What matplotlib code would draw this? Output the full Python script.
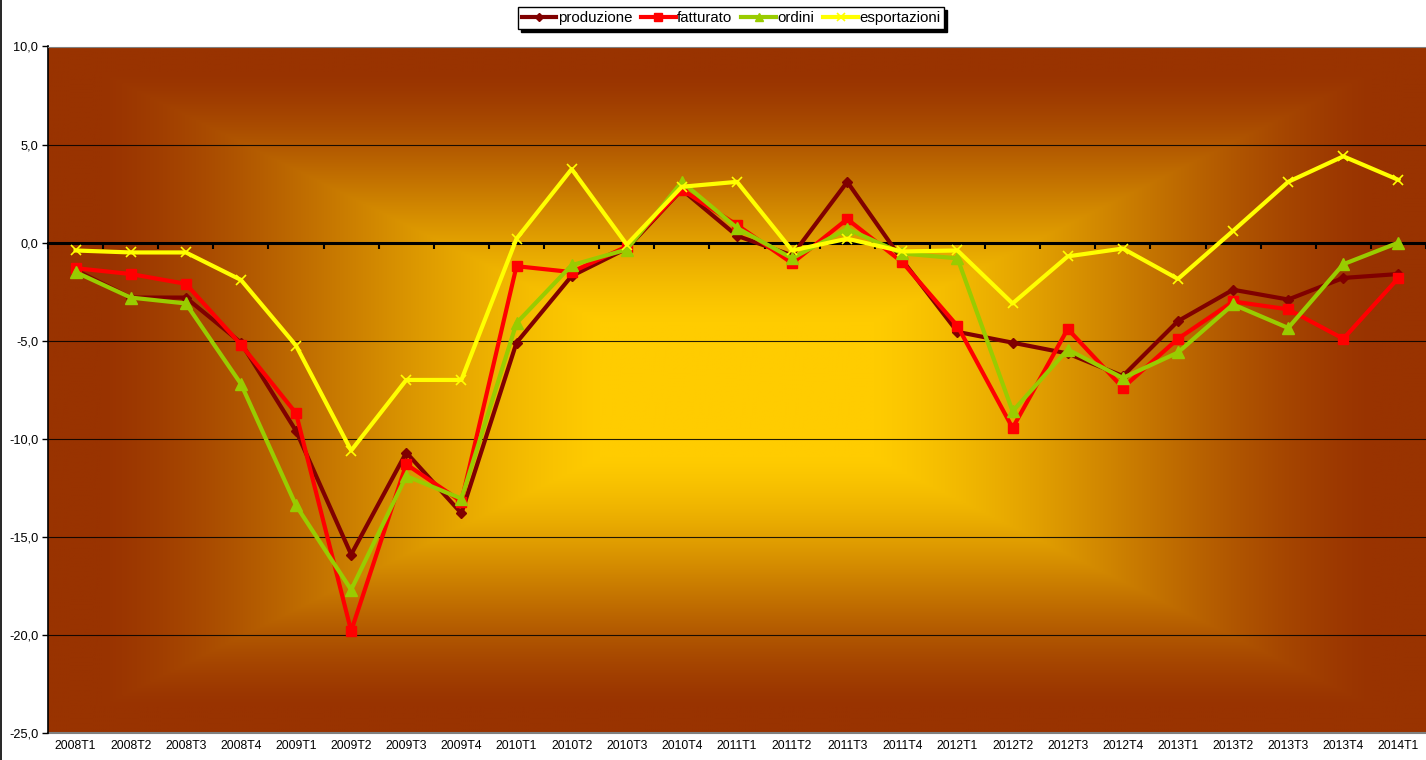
import numpy as np
import matplotlib
matplotlib.use("Agg")
import matplotlib.pyplot as plt
from matplotlib.ticker import FuncFormatter, FixedLocator
from matplotlib.lines import Line2D

plt.rcParams['font.family'] = ['Liberation Sans', 'DejaVu Sans']

# data
periodi = ['2008T1', '2008T2', '2008T3', '2008T4', '2009T1', '2009T2', '2009T3', '2009T4',
           '2010T1', '2010T2', '2010T3', '2010T4', '2011T1', '2011T2', '2011T3', '2011T4',
           '2012T1', '2012T2', '2012T3', '2012T4', '2013T1', '2013T2', '2013T3', '2013T4',
           '2014T1']
produzione = [-1.4, -2.8, -2.8, -5.1, -9.6, -15.9, -10.7, -13.8, -5.1, -1.7, -0.3, 2.7,
              0.35, -0.65, 3.1, -0.9, -4.55, -5.1, -5.65, -6.8, -4.0, -2.4, -2.9, -1.8, -1.6]
fatturato = [-1.3, -1.6, -2.1, -5.2, -8.7, -19.8, -11.3, -13.2, -1.2, -1.5, -0.2, 2.7,
             0.9, -1.05, 1.2, -1.0, -4.25, -9.45, -4.4, -7.4, -4.9, -3.0, -3.4, -4.9, -1.8]
ordini = [-1.5, -2.8, -3.1, -7.2, -13.4, -17.7, -11.9, -13.05, -4.1, -1.15, -0.35, 3.1,
          0.75, -0.8, 0.7, -0.55, -0.8, -8.6, -5.45, -6.9, -5.6, -3.15, -4.35, -1.1, 0.0]
esportazioni = [-0.4, -0.5, -0.5, -1.9, -5.25, -10.6, -7.0, -7.0, 0.2, 3.75, -0.1, 2.85,
                3.1, -0.4, 0.2, -0.45, -0.4, -3.1, -0.7, -0.3, -1.85, 0.6, 3.1, 4.4, 3.2]

fig = plt.figure(figsize=(14.26, 7.6), dpi=100)
ax = fig.add_axes([48 / 1426, 27 / 760, 1378 / 1426, 686.5 / 760])

x = np.arange(len(periodi))
ax.set_xlim(-0.5, len(periodi) - 0.5)
ax.set_ylim(-25, 10)

# rectangular "from centre" gradient background
nx, ny = 700, 350
gx = np.abs(np.linspace(-1, 1, nx))[None, :]
gy = np.abs(np.linspace(-1, 1, ny))[:, None]
d = np.maximum(gx, gy)
t = np.clip((d - 0.2) / 0.72, 0, 1)
t = 0.5 * t + 0.5 * t * t * (3 - 2 * t)
centro = np.array([255, 204, 0]) / 255.0
bordo = np.array([153, 51, 0]) / 255.0
img = centro[None, None, :] * (1 - t[..., None]) + bordo[None, None, :] * t[..., None]
ax.imshow(img, extent=(-0.5, len(periodi) - 0.5, -25, 10), aspect='auto', zorder=0,
          interpolation='bilinear')

# grid
for yv in [5, -5, -10, -15, -20]:
    ax.axhline(yv, color='black', lw=0.8, alpha=0.85, zorder=1)

ax.plot(x, produzione, color='#800000', lw=3, marker='D', ms=5.5, zorder=3, label='produzione')
ax.plot(x, fatturato, color='#FF0000', lw=3, marker='s', ms=7.5, zorder=4, label='fatturato')
ax.plot(x, ordini, color='#99CC00', lw=3, marker='^', ms=8, zorder=5, label='ordini')
ax.plot(x, esportazioni, color='#FFFF00', lw=3, marker='x', ms=7, mew=1.2, zorder=6,
        label='esportazioni')

# category axis crossing at zero
ax.spines['bottom'].set_position(('data', 0))
ax.spines['bottom'].set_linewidth(2.2)
ax.spines['bottom'].set_zorder(2)
ax.xaxis.set_major_locator(FixedLocator(np.arange(-0.5, len(periodi), 1.0)))
ax.tick_params(axis='x', direction='out', length=4, width=1.5, labelbottom=False)
ax.spines['top'].set_color('#808080')
ax.spines['right'].set_visible(False)
ax.spines['left'].set_linewidth(1.2)

sec = ax.secondary_xaxis(0.0)
sec.set_xticks(x)
sec.set_xticklabels(periodi)
sec.tick_params(length=0, labelsize=8.8, pad=5)
sec.spines['bottom'].set_color('#808080')
sec.spines['bottom'].set_linewidth(1.5)

ax.set_yticks(np.arange(-25, 11, 5))
ax.yaxis.set_major_formatter(FuncFormatter(lambda v, p: f'{v:.1f}'.replace('.', ',')))
ax.tick_params(axis='y', direction='out', length=4, width=1, labelsize=9.2, pad=3)

leg = fig.legend(loc='center', bbox_to_anchor=(731 / 1426, 1 - 18 / 760), ncol=4,
                 frameon=True, fancybox=False, shadow={'color': 'black', 'alpha': 1},
                 fontsize=10.8, handlelength=2.3, handletextpad=0.1, columnspacing=0.6,
                 borderpad=0.25, borderaxespad=0, markerscale=0.8)
leg.get_frame().set_edgecolor('black')
leg.get_frame().set_linewidth(1)

fig.add_artist(Line2D([0.0006, 0.0006], [0, 1], color='black', lw=1.2))

fig.savefig('out.png', dpi=100)
